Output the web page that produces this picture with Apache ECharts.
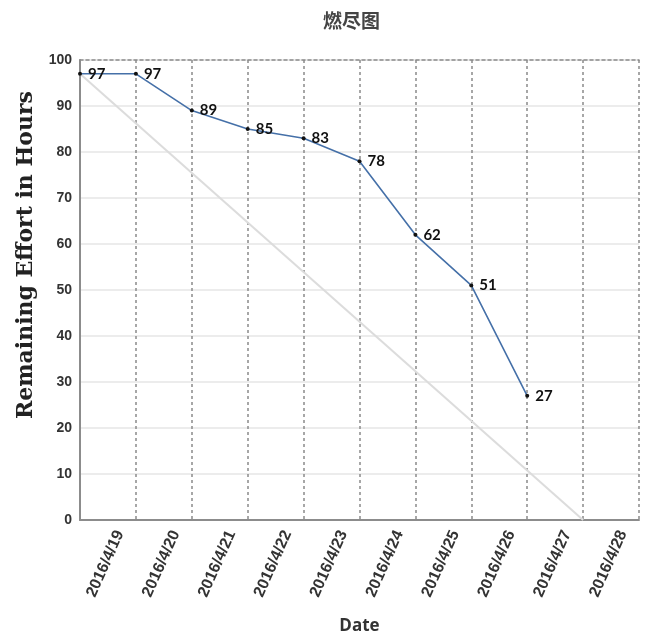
<!DOCTYPE html>
<html>
<head>
<meta charset="utf-8">
<script src="https://cdn.jsdelivr.net/npm/echarts@6/dist/echarts.min.js"></script>
<style>html,body{margin:0;padding:0;background:#fff;}#c{width:653px;height:635px;}</style>
</head>
<body>
<div id="c"></div>
<script>
const titleText = '燃尽图';
const dates = ['2016/4/19','2016/4/20','2016/4/21','2016/4/22','2016/4/23','2016/4/24','2016/4/25','2016/4/26','2016/4/27','2016/4/28'];
const remaining = [97, 97, 89, 85, 83, 78, 62, 51, 27];
const idealStartValue = 97;
const idealEndValue = 0;
const yMin = 0, yMax = 100, yStep = 10;

const chart = echarts.init(document.getElementById('c'));
chart.setOption({
  animation: false,
  backgroundColor: '#fff',
  title: {
    text: titleText,
    left: 318,
    top: 6,
    textStyle: {fontFamily: 'Noto Sans CJK SC', fontSize: 19, fontWeight: 'bold', color: '#444'}
  },
  grid: {left: 80, right: 14, top: 60, bottom: 115, containLabel: false, outerBoundsMode: 'none'},
  xAxis: [
    {
      type: 'category',
      data: dates,
      boundaryGap: true,
      position: 'bottom',
      axisLine: {lineStyle: {color: '#8c8c8c', width: 2}},
      axisTick: {show: false},
      axisLabel: {interval: 0, rotate: 66, margin: 6, fontSize: 16, fontWeight: 'bold', color: '#333', fontFamily: 'Liberation Sans', verticalAlign: 'top', lineHeight: 26},
      splitLine: {show: true, interval: 0, lineStyle: {type: [3, 3], color: '#8a8a8a', width: 1.5}},
      name: 'Date',
      nameLocation: 'middle',
      nameGap: 98,
      nameTextStyle: {fontSize: 17, fontWeight: 'bold', color: '#333', fontFamily: 'Open Sans'}
    },
    {
      type: 'category',
      data: dates.concat(['']),
      boundaryGap: false,
      position: 'top',
      axisLine: {show: true, lineStyle: {type: [3, 3], color: '#8a8a8a', width: 1.5}},
      axisTick: {show: false},
      axisLabel: {show: false},
      splitLine: {show: false}
    }
  ],
  yAxis: {
    type: 'value',
    min: yMin, max: yMax, interval: yStep,
    axisLine: {show: true, lineStyle: {color: '#8c8c8c', width: 2}},
    axisTick: {show: false},
    axisLabel: {fontSize: 14, fontWeight: 'bold', color: '#333', margin: 8, fontFamily: 'Liberation Sans'},
    splitLine: {show: true, lineStyle: {color: '#e6e6e6', width: 1.5}},
    name: 'Remaining Effort in Hours',
    nameLocation: 'middle',
    nameGap: 40,
    nameTextStyle: {fontSize: 22, fontWeight: 'bold', color: '#222', fontFamily: 'DejaVu Serif', padding: [0, 0, 0, 70]}
  },
  series: [
    {
      name: 'ideal',
      type: 'line',
      xAxisIndex: 1,
      data: [[dates[0], idealStartValue], [dates[dates.length - 1], idealEndValue]],
      symbol: 'none',
      lineStyle: {color: '#dcdcdc', width: 2},
      z: 1
    },
    {
      name: 'actual',
      type: 'line',
      xAxisIndex: 1,
      data: remaining,
      symbol: 'circle',
      symbolSize: 4,
      itemStyle: {color: '#111'},
      lineStyle: {color: '#4570a8', width: 1.6},
      label: {show: true, position: 'right', distance: 6, fontSize: 15, fontWeight: 'bold', color: '#111', fontFamily: 'Lato'},
      z: 3
    }
  ]
});
</script>
</body>
</html>
